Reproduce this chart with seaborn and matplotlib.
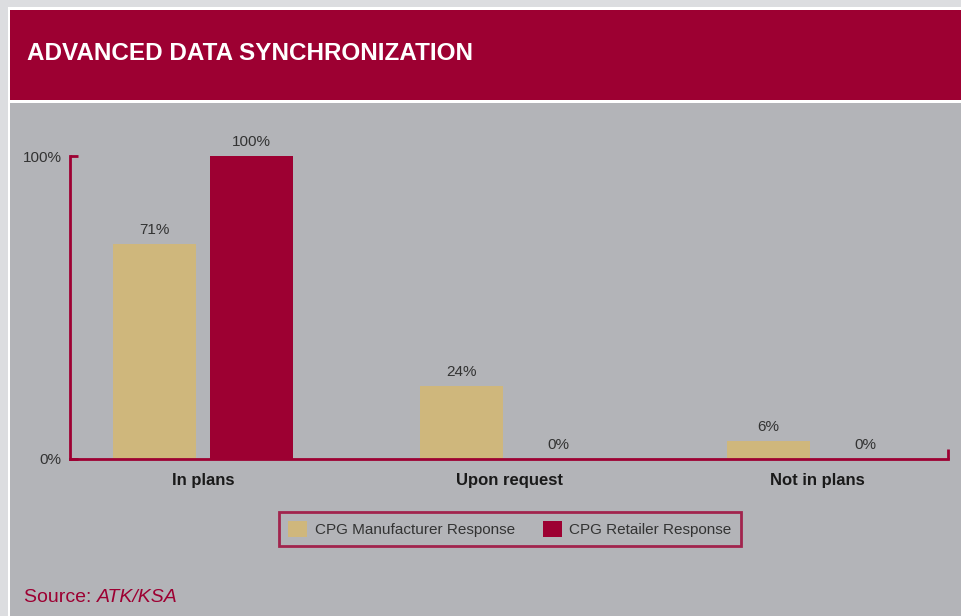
import matplotlib
matplotlib.use("Agg")
import matplotlib.pyplot as plt
from matplotlib.patches import Rectangle
import pandas as pd
import seaborn as sns

# data
categories = ["In plans", "Upon request", "Not in plans"]
manufacturer = [71, 24, 6]
retailer = [100, 0, 0]
series_names = ["CPG Manufacturer Response", "CPG Retailer Response"]

RED = "#9d0032"
TAN = "#cfb77c"
PANEL = "#b3b4b8"
OUTER = "#dcdde0"
TEXT = "#333333"

df = pd.DataFrame({
    "Category": categories * 2,
    "Series": [series_names[0]] * 3 + [series_names[1]] * 3,
    "Value": manufacturer + retailer,
})

sns.set_style("white")
plt.rcParams["font.family"] = ["Liberation Sans", "DejaVu Sans"]

W, H = 961, 616
fig = plt.figure(figsize=(W / 100, H / 100), dpi=100, facecolor=OUTER)

# page frame: white edge, red header band, grey panel
fig.patches.append(Rectangle((8 / W, 0), 1, 1 - 7 / H, transform=fig.transFigure,
                             facecolor="white", edgecolor="none", zorder=-3))
fig.patches.append(Rectangle((10 / W, 1 - 100 / H), 1, 90 / H, transform=fig.transFigure,
                             facecolor=RED, edgecolor="none", zorder=-2))
fig.patches.append(Rectangle((10 / W, 0), 1, 1 - 103 / H, transform=fig.transFigure,
                             facecolor=PANEL, edgecolor="none", zorder=-2))

fig.text(27 / W, 1 - 53 / H, "ADVANCED DATA SYNCHRONIZATION", color="white",
         fontsize=17.5, fontweight="bold", va="center", ha="left")

ax = fig.add_axes([70 / W, 1 - 459 / H, (948 - 70) / W, (459 - 156) / H])
ax.set_facecolor("none")

sns.barplot(data=df, x="Category", y="Value", hue="Series",
            palette=[TAN, RED], width=0.632, gap=0.146, saturation=1,
            linewidth=0, ax=ax, zorder=2)

for cont in ax.containers:
    ax.bar_label(cont, fmt="{:.0f}%", padding=5, fontsize=11, color=TEXT)

xmax = 2 + (948 - 817) / 307
ax.set_xlim(-(203 - 70) / 307, xmax)
ax.set_ylim(0, 100)
ax.set_yticks([0, 100])
ax.set_yticklabels(["0%", "100%"])
ax.set_xlabel("")
ax.set_ylabel("")

for side in ["top", "right"]:
    ax.spines[side].set_visible(False)
for side in ["left", "bottom"]:
    ax.spines[side].set_color(RED)
    ax.spines[side].set_linewidth(2)
    ax.spines[side].set_zorder(5)

ax.tick_params(axis="y", left=True, direction="in", length=6, width=2, color=RED,
               labelsize=11, labelcolor=TEXT, pad=6)
ax.tick_params(axis="x", which="major", bottom=True, length=0, pad=10, labelsize=12,
               labelcolor="#1a1a1a")
for lbl in ax.get_xticklabels():
    lbl.set_fontweight("bold")
ax.set_xticks([xmax], minor=True)
ax.tick_params(axis="x", which="minor", bottom=True, direction="in", length=7,
               width=2, color=RED)

handles, labels = ax.get_legend_handles_labels()
ax.get_legend().remove()
leg = fig.legend(handles, labels, loc="center", ncol=2,
                 bbox_to_anchor=(510 / W, 1 - 529 / H), fontsize=11,
                 frameon=True, fancybox=False, facecolor=PANEL, edgecolor=RED,
                 handlelength=1.25, handleheight=1.25, handletextpad=0.5,
                 columnspacing=1.8, borderpad=0.6, labelcolor=TEXT)
leg.get_frame().set_linewidth(2)

src = fig.text(24 / W, 1 - 598 / H, "Source: ", color=RED, fontsize=14,
               va="center", ha="left")
ax.annotate("ATK/KSA", xy=(1, 0.5), xycoords=src, va="center", ha="left",
            color=RED, fontsize=14, fontstyle="italic", annotation_clip=False)

fig.savefig("out.png", dpi=100, facecolor=OUTER)
